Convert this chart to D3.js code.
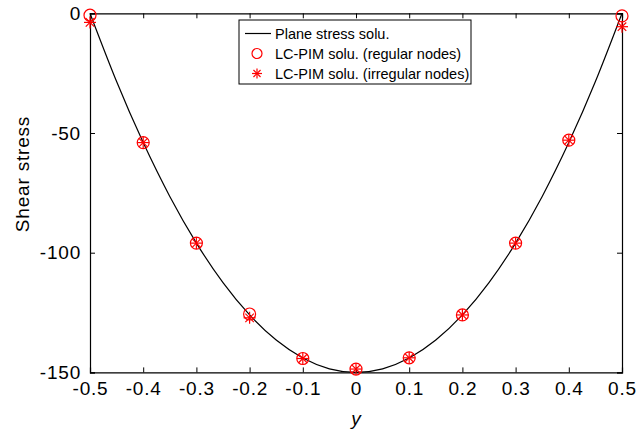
<!DOCTYPE html>
<html>
<head>
<meta charset="utf-8">
<script src="https://cdn.jsdelivr.net/npm/d3@7"></script>
<style>
  body { margin: 0; background: #fff; }
  svg { display: block; font-family: Arial, "Liberation Sans", Helvetica, sans-serif; }
</style>
</head>
<body>
<svg id="chart" width="636" height="434"></svg>
<script>
// exact (plane stress) solution
var curveY = [-0.5, -0.45, -0.4, -0.35, -0.3, -0.25, -0.2, -0.15, -0.1, -0.05, 0,
              0.05, 0.1, 0.15, 0.2, 0.25, 0.3, 0.35, 0.4, 0.45, 0.5];
var curveTau = [0, -28.5, -54, -76.5, -96, -112.5, -126, -136.5, -144, -148.5, -150,
                -148.5, -144, -136.5, -126, -112.5, -96, -76.5, -54, -28.5, 0];

// LC-PIM samples
var nodeY = [-0.5, -0.4, -0.3, -0.2, -0.1, 0, 0.1, 0.2, 0.3, 0.4, 0.5];
var regularTau = [-0.8, -54, -96, -125.6, -144.2, -148.6, -143.9, -126, -96, -53, -1.1];
var irregularTau = [-3.8, -54, -96, -127.2, -144.2, -148.6, -143.9, -126, -96, -53, -5.6];

var xTicks = [-0.5, -0.4, -0.3, -0.2, -0.1, 0, 0.1, 0.2, 0.3, 0.4, 0.5];
var yTicks = [0, -50, -100, -150];

var legendLabels = ['Plane stress solu.', 'LC-PIM solu. (regular nodes)', 'LC-PIM solu. (irregular nodes)'];

var svg = d3.select('#chart');
var plotLeft = 90, plotRight = 622, plotTop = 13.3, plotBottom = 372.4;

var x = d3.scaleLinear().domain([-0.5, 0.5]).range([plotLeft, plotRight]);
var y = d3.scaleLinear().domain([-150, 0]).range([plotBottom, plotTop]);

var fmt = function(d) { return d === 0 ? '0' : String(d); };

// axes
var xAxisB = d3.axisBottom(x).tickValues(xTicks).tickSize(-5).tickPadding(9).tickFormat(fmt);
var xAxisT = d3.axisTop(x).tickValues(xTicks).tickSize(-5).tickFormat('');
var yAxisL = d3.axisLeft(y).tickValues(yTicks).tickSize(-5).tickPadding(9).tickFormat(fmt);
var yAxisR = d3.axisRight(y).tickValues(yTicks).tickSize(-5).tickFormat('');

function styleAxis(g) {
  g.select('.domain').attr('stroke', '#000').attr('stroke-width', 1.2);
  g.selectAll('.tick line').attr('stroke', '#000').attr('stroke-width', 1);
  g.selectAll('.tick text').attr('fill', '#000')
    .style('font-size', '19px').style('letter-spacing', '0.8px');
}

svg.append('g').attr('transform', 'translate(0,' + plotBottom + ')').call(xAxisB).call(styleAxis);
svg.append('g').attr('transform', 'translate(0,' + plotTop + ')').call(xAxisT).call(styleAxis);
svg.append('g').attr('transform', 'translate(' + plotLeft + ',0)').call(yAxisL).call(styleAxis);
svg.append('g').attr('transform', 'translate(' + plotRight + ',0)').call(yAxisR).call(styleAxis);

// curve
var line = d3.line()
  .x(function(d, i) { return x(curveY[i]); })
  .y(function(d) { return y(d); })
  .curve(d3.curveNatural);

svg.append('path')
  .datum(curveTau)
  .attr('d', line)
  .attr('fill', 'none')
  .attr('stroke', '#000')
  .attr('stroke-width', 1.2);

function asterisk(g, r) {
  [0, 45, 90, 135].forEach(function(a) {
    var t = a * Math.PI / 180;
    g.append('line')
      .attr('x1', -r * Math.cos(t)).attr('y1', -r * Math.sin(t))
      .attr('x2', r * Math.cos(t)).attr('y2', r * Math.sin(t))
      .attr('stroke', '#ff0000').attr('stroke-width', 1.2);
  });
}

svg.append('g').selectAll('circle')
  .data(regularTau)
  .enter().append('circle')
  .attr('cx', function(d, i) { return x(nodeY[i]); })
  .attr('cy', function(d) { return y(d); })
  .attr('r', 6)
  .attr('fill', 'none')
  .attr('stroke', '#ff0000')
  .attr('stroke-width', 1.2);

svg.append('g').selectAll('g')
  .data(irregularTau)
  .enter().append('g')
  .attr('transform', function(d, i) { return 'translate(' + x(nodeY[i]) + ',' + y(d) + ')'; })
  .each(function() { asterisk(d3.select(this), 6); });

// axis titles
svg.append('text')
  .attr('x', 356).attr('y', 425)
  .attr('text-anchor', 'middle')
  .style('font-size', '19px').style('font-style', 'italic')
  .text('y');

svg.append('text')
  .attr('transform', 'translate(29,174) rotate(-90)')
  .attr('text-anchor', 'middle')
  .style('font-size', '19px').style('letter-spacing', '0.8px')
  .text('Shear stress');

// legend
var lg = svg.append('g').attr('transform', 'translate(239,20)');
lg.append('rect')
  .attr('width', 232).attr('height', 64)
  .attr('fill', '#fff').attr('stroke', '#000').attr('stroke-width', 1);

legendLabels.forEach(function(label, i) {
  var cy = 13.5 + i * 20;
  lg.append('text')
    .attr('x', 36).attr('y', cy + 5)
    .style('font-size', '14.5px')
    .text(label);
  if (i === 0) {
    lg.append('line').attr('x1', 6).attr('x2', 32).attr('y1', cy).attr('y2', cy)
      .attr('stroke', '#000').attr('stroke-width', 1.2);
  } else if (i === 1) {
    lg.append('circle').attr('cx', 18).attr('cy', cy).attr('r', 5)
      .attr('fill', 'none').attr('stroke', '#ff0000').attr('stroke-width', 1.2);
  } else {
    asterisk(lg.append('g').attr('transform', 'translate(18,' + cy + ')'), 5);
  }
});
</script>
</body>
</html>
